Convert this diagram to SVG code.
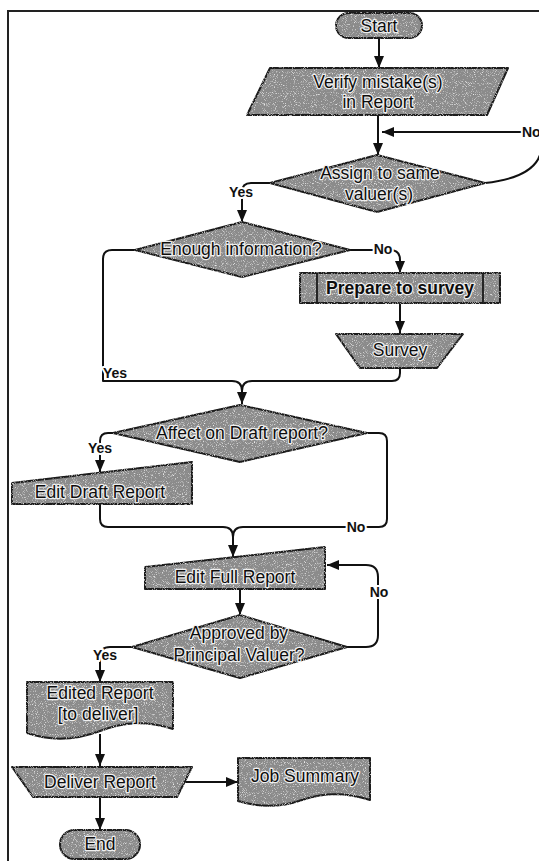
<svg xmlns="http://www.w3.org/2000/svg" width="539" height="861" viewBox="0 0 539 861">
  <style>
    .shape { fill: #8b8b8b; stroke: #1a1a1a; stroke-width: 2; stroke-linejoin: round; filter: url(#grain); }
    .rule { fill: none; stroke: #1a1a1a; stroke-width: 1.8; }
    .t { font-family: "Liberation Sans", Arial, sans-serif; font-size: 17.5px; fill: #0d0d0d; stroke: #efefef; stroke-width: 2.4; paint-order: stroke; stroke-linejoin: round; text-anchor: middle; }
    .b { font-weight: bold; }
    .lbl { font-family: "Liberation Sans", Arial, sans-serif; font-size: 14px; font-weight: bold; fill: #111; stroke: #fff; stroke-width: 4; paint-order: stroke; stroke-linejoin: round; text-anchor: middle; }
    .c { fill: none; stroke: #111; stroke-width: 2; stroke-linejoin: round; }
    .a { marker-end: url(#head); }
    .frame { fill: none; stroke: #222; stroke-width: 2; }
  </style>
  <defs>
    <marker id="head" viewBox="0 0 12 10" refX="12" refY="5" markerWidth="12" markerHeight="10" markerUnits="userSpaceOnUse" orient="auto">
      <path d="M0,0 L12,5 L0,10 Z" fill="#111"/>
    </marker>
    <!-- stippled grey texture for the flowchart symbols -->
    <filter id="grain">
      <feTurbulence type="fractalNoise" baseFrequency="1.1" numOctaves="1" seed="7" result="noise"/>
      <feColorMatrix in="noise" type="matrix" values="0 0 0 0 1  0 0 0 0 1  0 0 0 0 1  3 0 0 0 -1.65" result="specks"/>
      <feComposite in="specks" in2="SourceAlpha" operator="in" result="sp"/>
      <feMerge><feMergeNode in="SourceGraphic"/><feMergeNode in="sp"/></feMerge>
    </filter>
  </defs>

  <rect width="539" height="861" fill="#ffffff"/>

  <!-- page frame -->
  <g id="frame">
    <path class="frame" d="M8,861 V11 H539"/>
  </g>

  <!-- connectors -->
  <g id="connectors">
    <path class="c a" d="M379,38 V68"/>
    <path class="c a" d="M378,115 V155"/>
    <path class="c a" d="M485,183 C512,180 534,172 540,155 C546,138 538,132 522,132 H382"/>
    <path class="c a" d="M270,183 H251 Q242,183 242,192 V222"/>
    <path class="c a" d="M350,250 H390 Q400,250 400,260 V273"/>
    <path class="c a" d="M400,303 V333"/>
    <path class="c a" d="M400,368 V373 Q400,381 392,381 H252 Q242,381 242,391 V404"/>
    <path class="c" d="M135,250 H112 Q103,250 103,259 V381 H232 Q242,381 242,391 V404"/>
    <path class="c a" d="M113,433 H108 Q100,433 100,441 V472"/>
    <path class="c a" d="M367,433 H379 Q387,433 387,441 V519 Q387,527 379,527 H243 Q233,527 233,537 V557"/>
    <path class="c" d="M100,504 V519 Q100,527 108,527 H223 Q233,527 233,537 V557"/>
    <path class="c a" d="M240,589 V615"/>
    <path class="c a" d="M347,647 H366 Q378,647 378,635 V577 Q378,565 366,565 H327"/>
    <path class="c a" d="M132,647 H110 Q100,647 100,657 V682"/>
    <path class="c a" d="M100,734 V766"/>
    <path class="c a" d="M184,782 H238"/>
    <path class="c a" d="M100,797 V830"/>

    <text class="lbl" x="522" y="137" style="text-anchor:start">No</text>
    <text class="lbl" x="241" y="197">Yes</text>
    <text class="lbl" x="383" y="254">No</text>
    <text class="lbl" x="115" y="378">Yes</text>
    <text class="lbl" x="100" y="453">Yes</text>
    <text class="lbl" x="356" y="532">No</text>
    <text class="lbl" x="379" y="597">No</text>
    <text class="lbl" x="105" y="660">Yes</text>
  </g>

  <g id="start">
    <rect class="shape" x="336" y="13" width="86" height="25" rx="12.5"/>
    <text class="t" x="379" y="31.5">Start</text>
  </g>

  <g id="verify">
    <polygon class="shape" points="270,68 508,68 487,115 247,115"/>
    <text class="t" x="378" y="88">Verify mistake(s)</text>
    <text class="t" x="378" y="108">in Report</text>
  </g>

  <g id="assign">
    <polygon class="shape" points="377,155 485,183 377,212 270,183"/>
    <text class="t" x="380" y="178.5">Assign to same</text>
    <text class="t" x="379" y="200">valuer(s)</text>
  </g>

  <g id="enough">
    <polygon class="shape" points="242,222 350,250 242,277 135,250"/>
    <text class="t" x="241" y="255">Enough information?</text>
  </g>

  <g id="prepare">
    <rect class="shape" x="300" y="273" width="200" height="30"/>
    <path class="rule" d="M317,273 V303 M483,273 V303"/>
    <text class="t b" x="400" y="294">Prepare to survey</text>
  </g>

  <g id="survey">
    <polygon class="shape" points="336,334 463,334 437,368 360,368"/>
    <text class="t" x="400" y="356">Survey</text>
  </g>

  <g id="affect">
    <polygon class="shape" points="240,405 367,433 240,462 113,433"/>
    <text class="t" x="242" y="439">Affect on Draft report?</text>
  </g>

  <g id="edit-draft">
    <polygon class="shape" points="12,483 192,462 192,504 12,504"/>
    <text class="t" x="100" y="498">Edit Draft Report</text>
  </g>

  <g id="edit-full">
    <polygon class="shape" points="145,567 325,547 325,589 145,589"/>
    <text class="t" x="235" y="583">Edit Full Report</text>
  </g>

  <g id="approved">
    <polygon class="shape" points="240,615 347,647 240,678 132,647"/>
    <text class="t" x="239" y="639">Approved by</text>
    <text class="t" x="239" y="661">Principal Valuer?</text>
  </g>

  <g id="edited-report">
    <path class="shape" d="M27,682 H173 V729 C146,720 124,722 100,731 C76,740 50,741 27,733 Z"/>
    <text class="t" x="100" y="699">Edited Report</text>
    <text class="t" x="98" y="720">[to deliver]</text>
  </g>

  <g id="deliver">
    <polygon class="shape" points="12,767 192,767 177,797 33,797"/>
    <text class="t" x="100" y="788">Deliver Report</text>
  </g>

  <g id="job-summary">
    <path class="shape" d="M238,758 H370 V800 C345,792 322,793 302,800 C282,807 260,808 238,801 Z"/>
    <text class="t" x="305" y="782">Job Summary</text>
  </g>

  <g id="end">
    <rect class="shape" x="60" y="830" width="80" height="29" rx="14.5"/>
    <text class="t" x="100" y="850">End</text>
  </g>
</svg>
